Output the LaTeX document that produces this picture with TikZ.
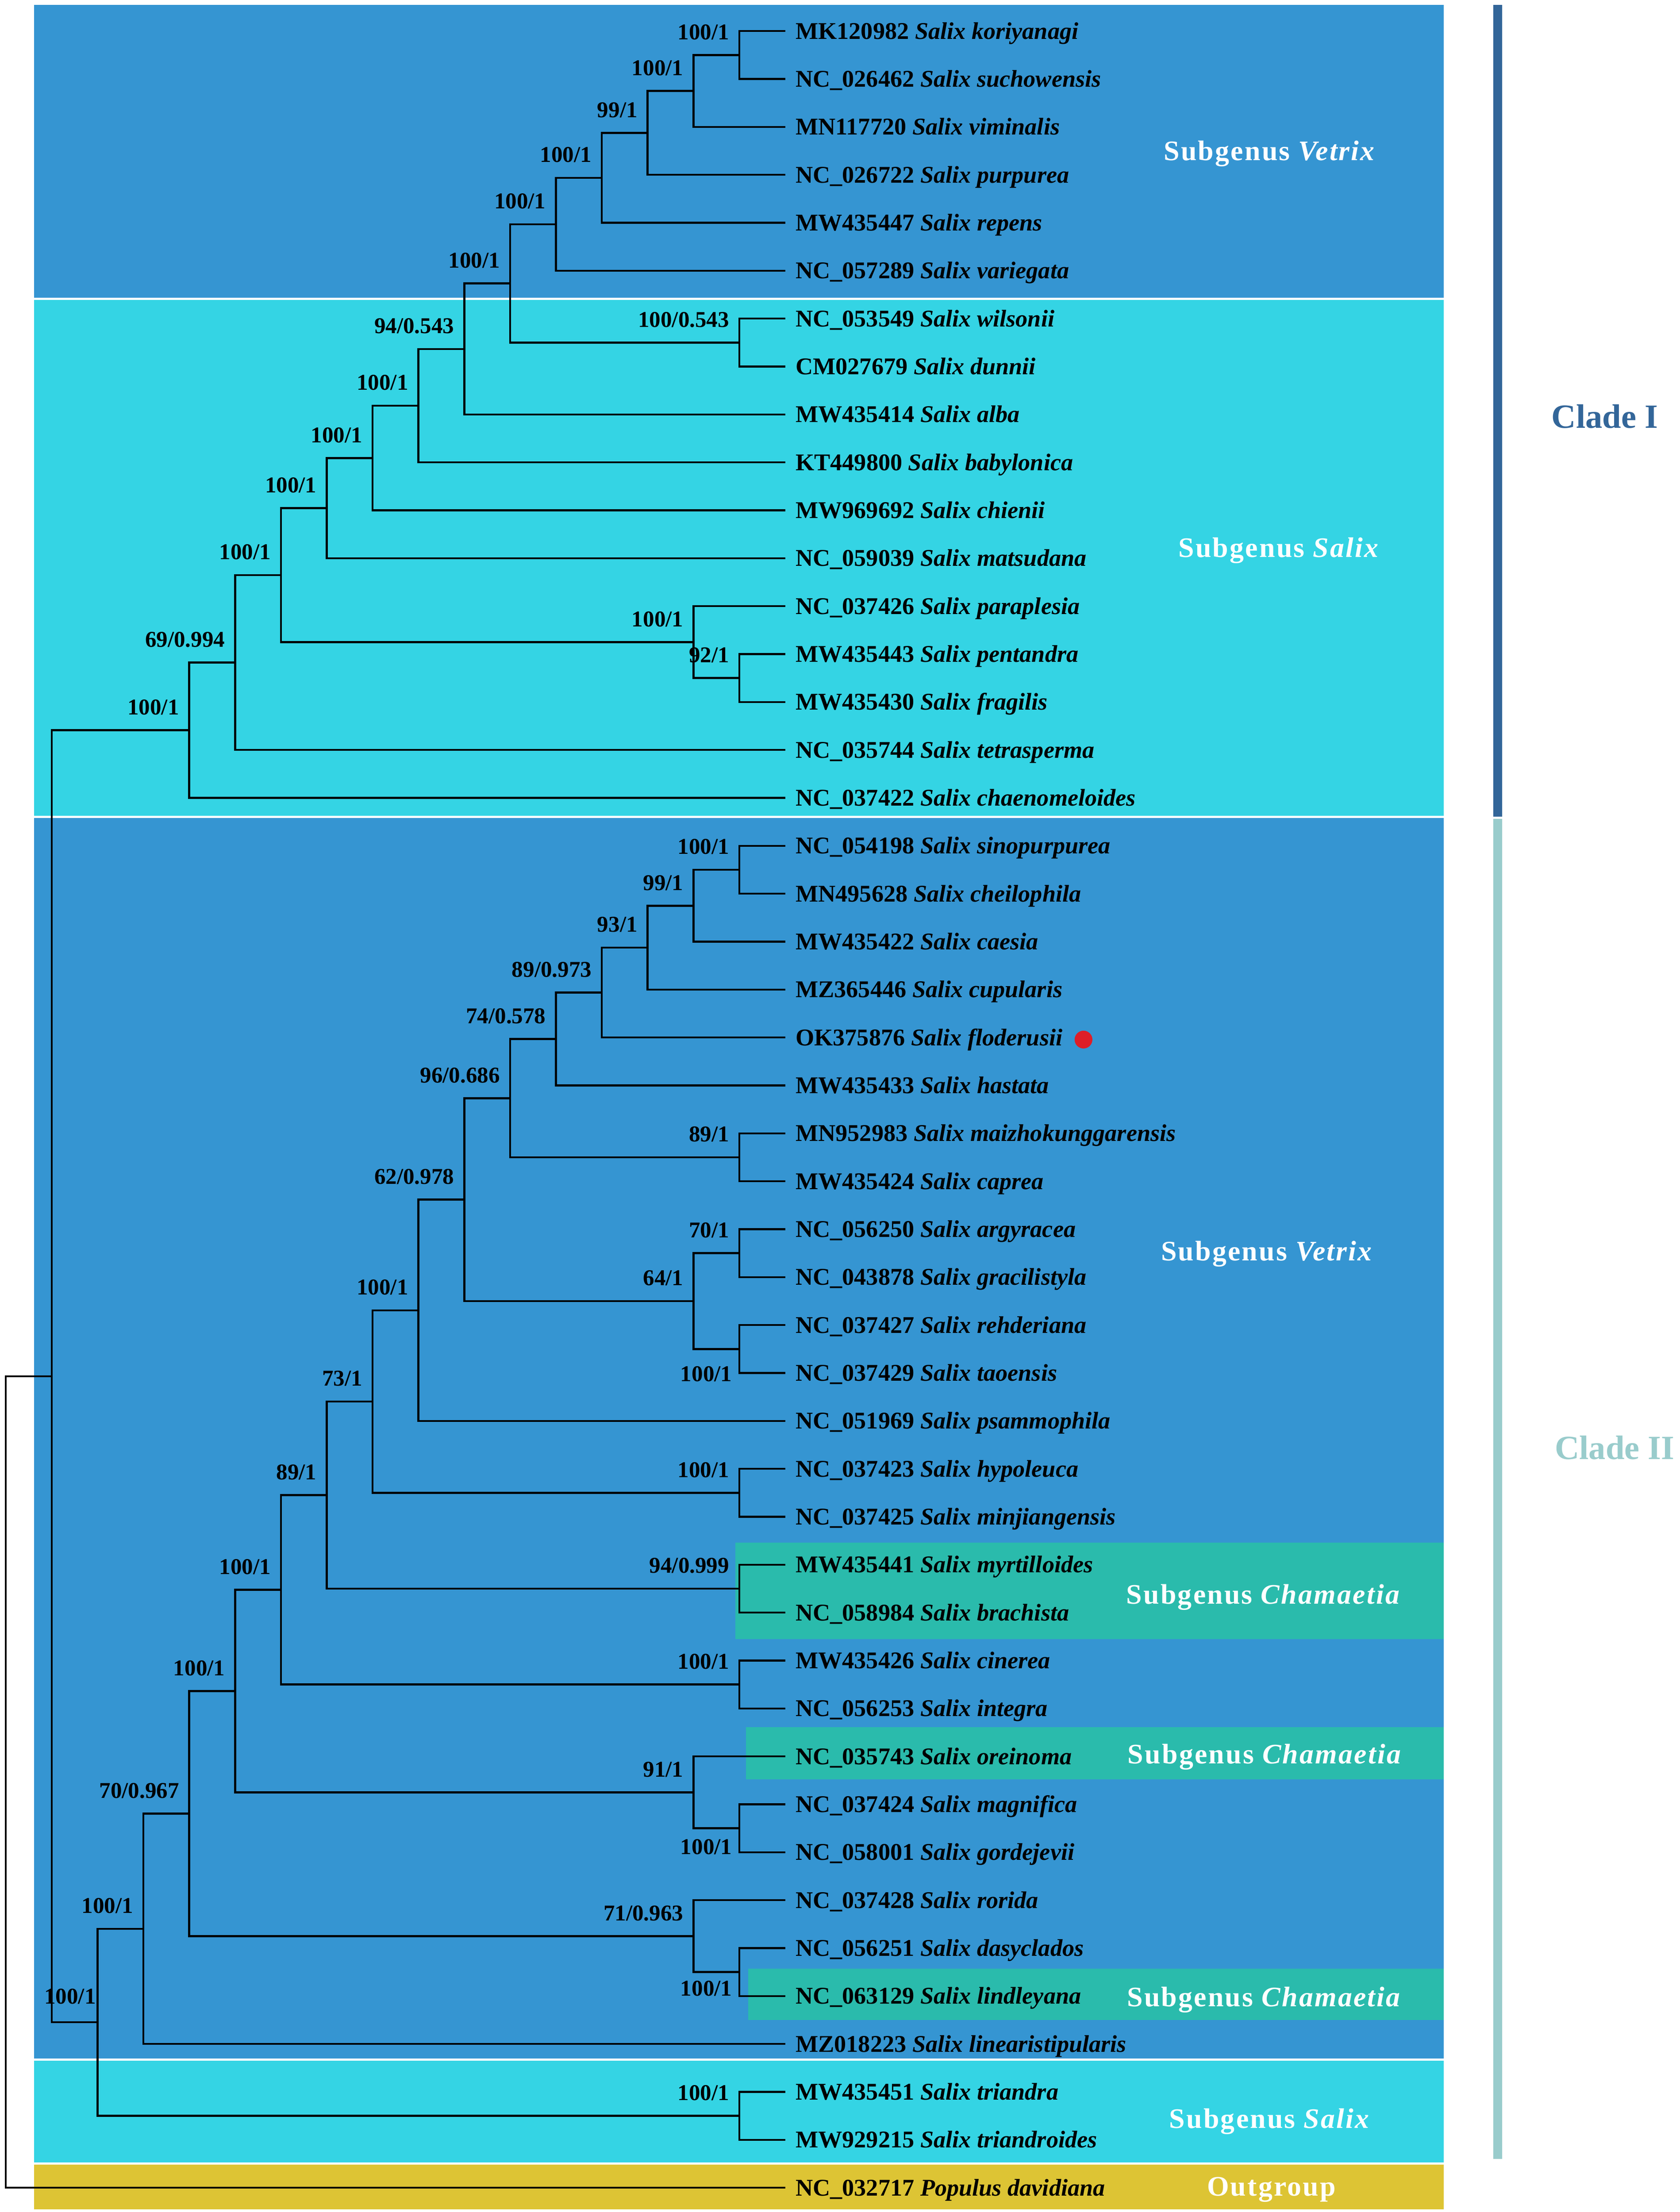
\documentclass[tikz,border=0pt]{standalone}
\usepackage{fontspec}
\setmainfont{Liberation Serif}
\newfontfamily\spacedfont[LetterSpace=5]{Liberation Serif}
\usetikzlibrary{calc}
\definecolor{vblue}{RGB}{53,149,210}
\definecolor{scyan}{RGB}{52,212,228}
\definecolor{cgreen}{RGB}{42,187,172}
\definecolor{ogold}{RGB}{221,196,52}
\definecolor{cladeone}{RGB}{51,102,153}
\definecolor{cladetwo}{RGB}{153,204,204}
\definecolor{dotred}{RGB}{222,30,40}
\newcommand\leafnode[3]{%
  \coordinate (t#1) at (555.8,{yy(#1)});
  \node[leaflab] (l#1) at (563,{yy(#1)+5.6}) {#2 \textit{#3}};}
\newcommand\inode[3]{\coordinate (#1) at ({xk(#2)},{yy(#3)});}
\newcommand\supa[2]{\node[suplab] (#1s) at ($(#1)+(-7,-11)$) {#2};}
\newcommand\supb[3]{\node[suplab] (#1s) at ($(#1)+(-5,#3)$) {#2};}
\newcommand\bj[3]{\draw[br] (#2) -| (#1) |- (#3);}
\begin{document}
\begin{tikzpicture}[x=1pt,y=-1pt,
  declare function={yy(\i)=22+(\i-1)*33.93; xk(\k)=555.8-32.45*\k;},
  br/.style={line width=1.4pt, black},
  rootbr/.style={line width=1.1pt, black},
  leaflab/.style={anchor=base west, inner sep=0pt, font=\fontsize{17}{20}\selectfont\bfseries},
  suplab/.style={anchor=base east, inner sep=0pt, font=\fontsize{16}{19}\selectfont\bfseries},
  sublab/.style={anchor=base, inner sep=0pt, text=white, font=\fontsize{20}{24}\selectfont\spacedfont\bfseries},
  cladelab/.style={anchor=base, inner sep=0pt, font=\fontsize{24}{28}\selectfont\bfseries}
]
\useasboundingbox (0,0) rectangle (1189,1566.05);
\fill[white] (0,0) rectangle (1189,1566.05);
% bands
\fill[vblue] (24,3.5) rectangle (1022,210.8);
\fill[scyan] (24,212.3) rectangle (1022,577.6);
\fill[vblue] (24,579.1) rectangle (1022,1457.4);
\fill[scyan] (24,1458.9) rectangle (1022,1530.9);
\fill[ogold] (24,1532.4) rectangle (1022,1564.3);
\fill[cgreen] (520.7,1092) rectangle (1022,1160.3);
\fill[cgreen] (528,1222.7) rectangle (1022,1259.7);
\fill[cgreen] (529.6,1393.7) rectangle (1022,1430.2);
% clade bars
\fill[cladeone] (1057.2,3.6) rectangle (1063.2,578.3);
\fill[cladetwo] (1057.2,579.8) rectangle (1063.2,1528.3);
% leaves
\leafnode{1}{MK120982}{Salix koriyanagi}
\leafnode{2}{NC\_026462}{Salix suchowensis}
\leafnode{3}{MN117720}{Salix viminalis}
\leafnode{4}{NC\_026722}{Salix purpurea}
\leafnode{5}{MW435447}{Salix repens}
\leafnode{6}{NC\_057289}{Salix variegata}
\leafnode{7}{NC\_053549}{Salix wilsonii}
\leafnode{8}{CM027679}{Salix dunnii}
\leafnode{9}{MW435414}{Salix alba}
\leafnode{10}{KT449800}{Salix babylonica}
\leafnode{11}{MW969692}{Salix chienii}
\leafnode{12}{NC\_059039}{Salix matsudana}
\leafnode{13}{NC\_037426}{Salix paraplesia}
\leafnode{14}{MW435443}{Salix pentandra}
\leafnode{15}{MW435430}{Salix fragilis}
\leafnode{16}{NC\_035744}{Salix tetrasperma}
\leafnode{17}{NC\_037422}{Salix chaenomeloides}
\leafnode{18}{NC\_054198}{Salix sinopurpurea}
\leafnode{19}{MN495628}{Salix cheilophila}
\leafnode{20}{MW435422}{Salix caesia}
\leafnode{21}{MZ365446}{Salix cupularis}
\leafnode{22}{OK375876}{Salix floderusii}
\leafnode{23}{MW435433}{Salix hastata}
\leafnode{24}{MN952983}{Salix maizhokunggarensis}
\leafnode{25}{MW435424}{Salix caprea}
\leafnode{26}{NC\_056250}{Salix argyracea}
\leafnode{27}{NC\_043878}{Salix gracilistyla}
\leafnode{28}{NC\_037427}{Salix rehderiana}
\leafnode{29}{NC\_037429}{Salix taoensis}
\leafnode{30}{NC\_051969}{Salix psammophila}
\leafnode{31}{NC\_037423}{Salix hypoleuca}
\leafnode{32}{NC\_037425}{Salix minjiangensis}
\leafnode{33}{MW435441}{Salix myrtilloides}
\leafnode{34}{NC\_058984}{Salix brachista}
\leafnode{35}{MW435426}{Salix cinerea}
\leafnode{36}{NC\_056253}{Salix integra}
\leafnode{37}{NC\_035743}{Salix oreinoma}
\leafnode{38}{NC\_037424}{Salix magnifica}
\leafnode{39}{NC\_058001}{Salix gordejevii}
\leafnode{40}{NC\_037428}{Salix rorida}
\leafnode{41}{NC\_056251}{Salix dasyclados}
\leafnode{42}{NC\_063129}{Salix lindleyana}
\leafnode{43}{MZ018223}{Salix linearistipularis}
\leafnode{44}{MW435451}{Salix triandra}
\leafnode{45}{MW929215}{Salix triandroides}
\leafnode{46}{NC\_032717}{Populus davidiana}
% internal nodes, clade I
\inode{A}{1}{1.5}
\inode{B}{2}{2.25}
\inode{C}{3}{3.125}
\inode{D}{4}{4.0625}
\inode{E}{5}{5.03125}
\inode{WD}{1}{7.5}
\inode{F}{6}{6.265625}
\inode{G}{7}{7.6328125}
\inode{H}{8}{8.81640625}
\inode{I}{9}{9.908203}
\inode{J}{10}{10.954102}
\inode{PF}{1}{14.5}
\inode{PP}{2}{13.75}
\inode{K}{11}{12.352051}
\inode{L}{12}{14.176025}
\inode{M}{13}{15.588013}
% clade II
\inode{a1}{1}{18.5}
\inode{a2}{2}{19.25}
\inode{a3}{3}{20.125}
\inode{a4}{4}{21.0625}
\inode{a5}{5}{22.03125}
\inode{mc}{1}{24.5}
\inode{a6}{6}{23.265625}
\inode{ag}{1}{26.5}
\inode{rt}{1}{28.5}
\inode{agrt}{2}{27.5}
\inode{a7}{7}{25.3828125}
\inode{a8}{8}{27.69140625}
\inode{hm}{1}{31.5}
\inode{a9}{9}{29.595703}
\inode{mb}{1}{33.5}
\inode{a10}{10}{31.547852}
\inode{ci}{1}{35.5}
\inode{a11}{11}{33.523926}
\inode{mg}{1}{38.5}
\inode{omg}{2}{37.75}
\inode{a12}{12}{35.636963}
\inode{dl}{1}{41.5}
\inode{rdl}{2}{40.75}
\inode{a13}{13}{38.193481}
\inode{a14}{14}{40.596741}
\inode{tt}{1}{44.5}
\inode{a15}{15}{42.548370}
\inode{N}{16}{29.068192}
\coordinate (R) at (4,{yy(37.534096)});
% branches
\bj{A}{t1}{t2}
\bj{B}{A}{t3}
\bj{C}{B}{t4}
\bj{D}{C}{t5}
\bj{E}{D}{t6}
\bj{WD}{t7}{t8}
\bj{F}{E}{WD}
\bj{G}{F}{t9}
\bj{H}{G}{t10}
\bj{I}{H}{t11}
\bj{J}{I}{t12}
\bj{PF}{t14}{t15}
\bj{PP}{t13}{PF}
\bj{K}{J}{PP}
\bj{L}{K}{t16}
\bj{M}{L}{t17}
\bj{a1}{t18}{t19}
\bj{a2}{a1}{t20}
\bj{a3}{a2}{t21}
\bj{a4}{a3}{t22}
\bj{a5}{a4}{t23}
\bj{mc}{t24}{t25}
\bj{a6}{a5}{mc}
\bj{ag}{t26}{t27}
\bj{rt}{t28}{t29}
\bj{agrt}{ag}{rt}
\bj{a7}{a6}{agrt}
\bj{a8}{a7}{t30}
\bj{hm}{t31}{t32}
\bj{a9}{a8}{hm}
\bj{mb}{t33}{t34}
\bj{a10}{a9}{mb}
\bj{ci}{t35}{t36}
\bj{a11}{a10}{ci}
\bj{mg}{t38}{t39}
\bj{omg}{t37}{mg}
\bj{a12}{a11}{omg}
\bj{dl}{t41}{t42}
\bj{rdl}{t40}{dl}
\bj{a13}{a12}{rdl}
\bj{a14}{a13}{t43}
\bj{tt}{t44}{t45}
\bj{a15}{a14}{tt}
\bj{N}{M}{a15}
\draw[rootbr] (N) -| (R) |- (t46);
% support values
\supa{A}{100/1}
\supa{B}{100/1}
\supa{C}{99/1}
\supa{D}{100/1}
\supa{E}{100/1}
\supa{WD}{100/0.543}
\supa{F}{100/1}
\supa{G}{94/0.543}
\supa{H}{100/1}
\supa{I}{100/1}
\supa{J}{100/1}
\supa{PF}{92/1}
\supa{PP}{100/1}
\supa{K}{100/1}
\supa{L}{69/0.994}
\supa{M}{100/1}
\supa{a1}{100/1}
\supa{a2}{99/1}
\supa{a3}{93/1}
\supa{a4}{89/0.973}
\supa{a5}{74/0.578}
\supa{mc}{89/1}
\supa{a6}{96/0.686}
\supa{ag}{70/1}
\supb{rt}{100/1}{23}
\supa{agrt}{64/1}
\supa{a7}{62/0.978}
\supa{a8}{100/1}
\supa{hm}{100/1}
\supa{a9}{73/1}
\supa{mb}{94/0.999}
\supa{a10}{89/1}
\supa{ci}{100/1}
\supa{a11}{100/1}
\supb{mg}{100/1}{18.5}
\supa{omg}{91/1}
\supa{a12}{100/1}
\supb{dl}{100/1}{17}
\supa{rdl}{71/0.963}
\supa{a13}{70/0.967}
\supa{a14}{100/1}
\supa{tt}{100/1}
\node[suplab] (a15s) at ($(a15)+(-1,-13)$) {100/1};
% marker
\node[circle, fill=dotred, minimum size=12.6pt, inner sep=0pt] (dot) at (767,736) {};
% group labels
\node[sublab] (g1) at (899,113.6) {Subgenus \textit{Vetrix}};
\node[sublab] (g2) at (905.5,394.6) {Subgenus \textit{Salix}};
\node[sublab] (g3) at (897,892.6) {Subgenus \textit{Vetrix}};
\node[sublab] (g4) at (894.5,1135.6) {Subgenus \textit{Chamaetia}};
\node[sublab] (g5) at (895.5,1248.6) {Subgenus \textit{Chamaetia}};
\node[sublab] (g6) at (895,1420.6) {Subgenus \textit{Chamaetia}};
\node[sublab] (g7) at (899,1506.6) {Subgenus \textit{Salix}};
\node[sublab] (g8) at (900,1554.6) {Outgroup};
\node[cladelab, text=cladeone] (c1) at (1136,303) {Clade I};
\node[cladelab, text=cladetwo] (c2) at (1143,1033) {Clade II};
\end{tikzpicture}
\end{document}
